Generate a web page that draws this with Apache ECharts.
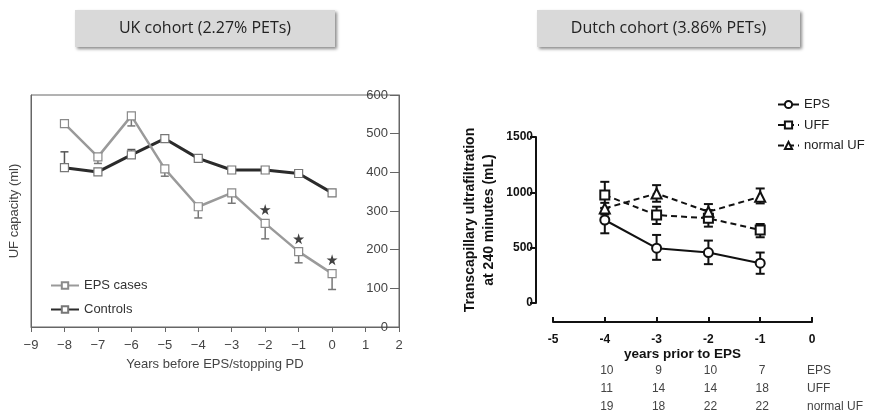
<!DOCTYPE html>
<html>
<head>
<meta charset="utf-8">
<script src="https://cdn.jsdelivr.net/npm/echarts@6/dist/echarts.min.js"></script>
<style>
  html, body { margin: 0; padding: 0; background: #fff; }
  #chart { width: 872px; height: 415px; }
</style>
</head>
<body>
<div id="chart"></div>
<script>
// UK cohort
const ukYears = [-8, -7, -6, -5, -4, -3, -2, -1, 0]
const ukEps = [526, 440, 546, 409, 311, 347, 268, 195, 138]
const ukEpsErr = [null, 423, 520, 390, 282, 320, 228, 166, 97]
const ukCtrl = [412, 401, 445, 487, 436, 406, 406, 397, 347]
const ukCtrlErr = [453, null, 459, null, null, null, null, null, null]
const ukStarYears = [-2, -1, 0]
const ukStars = [304, 228, 174]

// Dutch cohort
const nlYears = [-4, -3, -2, -1]
const nlEps = [750, 495, 456, 360]
const nlEpsLo = [630, 390, 351, 264]
const nlEpsHi = [860, 615, 564, 456]
const nlUff = [975, 795, 765, 660]
const nlUffLo = [855, 714, 690, 594]
const nlUffHi = [1095, 870, 840, 714]
const nlNorm = [855, 990, 825, 960]
const nlNormLo = [800, 915, 750, 900]
const nlNormHi = [905, 1065, 894, 1035]
const nCounts = [
  ['EPS', [10, 9, 10, 7]],
  ['UFF', [11, 14, 14, 18]],
  ['normal UF', [19, 18, 22, 22]]
]

const chart = echarts.init(document.getElementById('chart'))

function pairs(xs, ys) {
  return xs.map((x, i) => [x, ys[i]])
}

// 误差线：从均值画到端点
function oneSided(xs, ys, ends) {
  const out = []
  xs.forEach((x, i) => {
    if (ends[i] != null) out.push([x, ys[i], ends[i]])
  })
  return out
}

function errRender(color, width, cap, bothCaps) {
  return function (params, api) {
    const x = api.value(0)
    const p1 = api.coord([x, api.value(1)])
    const p2 = api.coord([x, api.value(2)])
    const style = { stroke: color, lineWidth: width }
    const kids = [
      { type: 'line', shape: { x1: p1[0], y1: p1[1], x2: p2[0], y2: p2[1] }, style },
      { type: 'line', shape: { x1: p2[0] - cap, y1: p2[1], x2: p2[0] + cap, y2: p2[1] }, style }
    ]
    if (bothCaps) {
      kids.push({ type: 'line', shape: { x1: p1[0] - cap, y1: p1[1], x2: p1[0] + cap, y2: p1[1] }, style })
    }
    return { type: 'group', children: kids }
  }
}

const nlErrData = []
nlYears.forEach((x, i) => {
  nlErrData.push([x, nlEpsLo[i], nlEpsHi[i]])
  nlErrData.push([x, nlUffLo[i], nlUffHi[i]])
  nlErrData.push([x, nlNormLo[i], nlNormHi[i]])
})

const tableData = []
nCounts.forEach((row, r) => {
  row[1].forEach((n, i) => tableData.push([nlYears[i], r, String(n), 0]))
  tableData.push([0, r, row[0], 1])
})

const minus = (v) => String(v).replace('-', '\u2212')
const plain = (v) => String(v)
const starPath = 'path://M50,0 L61,35 L98,35 L68,57 L79,91 L50,70 L21,91 L32,57 L2,35 L39,35 Z'
const ukFont = 'Liberation Sans'

const option = {
  animation: false,
  graphic: [
    {
      type: 'group', left: 75, top: 10,
      children: [
        { type: 'rect', shape: { width: 260, height: 37 },
          style: { fill: '#d9d9d9', shadowBlur: 3, shadowOffsetX: 2, shadowOffsetY: 2, shadowColor: 'rgba(0,0,0,0.45)' } },
        { type: 'text', x: 130, y: 18.5,
          style: { text: 'UK cohort (2.27% PETs)', font: '16px "Open Sans"', fill: '#222', align: 'center', verticalAlign: 'middle' } }
      ]
    },
    {
      type: 'group', left: 537, top: 10,
      children: [
        { type: 'rect', shape: { width: 263, height: 37 },
          style: { fill: '#d9d9d9', shadowBlur: 3, shadowOffsetX: 2, shadowOffsetY: 2, shadowColor: 'rgba(0,0,0,0.45)' } },
        { type: 'text', x: 131.5, y: 18.5,
          style: { text: 'Dutch cohort (3.86% PETs)', font: '16px "Open Sans"', fill: '#222', align: 'center', verticalAlign: 'middle' } }
      ]
    }
  ],
  legend: [
    {
      data: ['EPS cases', 'Controls'],
      orient: 'vertical', left: 45, top: 274,
      itemWidth: 28, itemHeight: 8, itemGap: 11,
      textStyle: { fontFamily: ukFont, fontSize: 13, color: '#333' }
    },
    {
      data: ['EPS', 'UFF', 'normal UF'],
      orient: 'vertical', left: 772, top: 93,
      itemWidth: 21, itemHeight: 9, itemGap: 7.5,
      textStyle: { fontFamily: ukFont, fontSize: 13, color: '#222' }
    }
  ],
  grid: [
    { left: 31, top: 95, width: 368, height: 232, show: true, borderColor: '#666', borderWidth: 1 },
    { left: 553, top: 137, width: 259, height: 166 }
  ],
  xAxis: [
    {
      gridIndex: 0, type: 'value', min: -9, max: 2, interval: 1,
      axisLine: { onZero: false, lineStyle: { color: '#666' } },
      axisTick: { length: 5, lineStyle: { color: '#666' } },
      splitLine: { show: false },
      axisLabel: { formatter: minus, fontFamily: ukFont, fontSize: 13, color: '#444', margin: 12 },
      name: 'Years before EPS/stopping PD', nameLocation: 'middle', nameGap: 31,
      nameTextStyle: { fontFamily: ukFont, fontSize: 13, color: '#444' }
    },
    {
      gridIndex: 1, type: 'value', position: 'bottom', min: -5, max: 0, interval: 1, offset: 19,
      axisLine: { show: true, onZero: false, lineStyle: { color: '#111', width: 2 } },
      axisTick: { show: true, inside: true, length: 5, lineStyle: { color: '#111', width: 2 } },
      splitLine: { show: false },
      axisLabel: { fontFamily: ukFont, fontSize: 12, fontWeight: 'bold', color: '#111', margin: 12 },
      name: 'years prior to EPS', nameLocation: 'middle', nameGap: 23,
      nameTextStyle: { fontFamily: ukFont, fontSize: 13.5, fontWeight: 'bold', color: '#111' }
    }
  ],
  yAxis: [
    {
      gridIndex: 0, type: 'value', position: 'right', min: 0, max: 600, interval: 100,
      axisLine: { show: true, onZero: false, lineStyle: { color: '#666' } },
      axisTick: { show: true, inside: true, length: 9, lineStyle: { color: '#666' } },
      splitLine: { show: false },
      axisLabel: { inside: true, margin: 11, fontFamily: ukFont, fontSize: 13, color: '#444' }
    },
    {
      gridIndex: 0, type: 'value', position: 'left', min: 0, max: 600,
      axisLine: { show: true, onZero: false, lineStyle: { color: '#666' } },
      axisTick: { show: false }, axisLabel: { show: false }, splitLine: { show: false },
      name: 'UF capacity (ml)', nameLocation: 'middle', nameGap: 10,
      nameTextStyle: { fontFamily: ukFont, fontSize: 13, color: '#444' }
    },
    {
      gridIndex: 1, type: 'value', min: 0, max: 1500, interval: 500, offset: 17,
      axisLine: { show: true, onZero: false, lineStyle: { color: '#111', width: 2 } },
      axisTick: { show: true, length: 6, lineStyle: { color: '#111', width: 2 } },
      splitLine: { show: false },
      axisLabel: { formatter: plain, fontFamily: ukFont, fontSize: 12, fontWeight: 'bold', color: '#111', margin: 3 },
      name: 'Transcapillary ultrafiltration\nat 240 minutes (mL)', nameLocation: 'middle', nameGap: 37,
      nameTextStyle: { fontFamily: ukFont, fontSize: 14, fontWeight: 'bold', color: '#111', lineHeight: 19 }
    }
  ],
  series: [
    {
      name: 'EPS cases', type: 'line', xAxisIndex: 0, yAxisIndex: 0, z: 3,
      data: pairs(ukYears, ukEps),
      symbol: 'rect', symbolSize: 8,
      lineStyle: { color: '#9a9a9a', width: 2.5 },
      itemStyle: { color: '#fff', borderColor: '#8a8a8a', borderWidth: 1.2 }
    },
    {
      name: 'Controls', type: 'line', xAxisIndex: 0, yAxisIndex: 0, z: 2,
      data: pairs(ukYears, ukCtrl),
      symbol: 'rect', symbolSize: 8,
      lineStyle: { color: '#2b2b2b', width: 3 },
      itemStyle: { color: '#fff', borderColor: '#777', borderWidth: 1.2 }
    },
    {
      type: 'custom', xAxisIndex: 0, yAxisIndex: 0, z: 1,
      renderItem: errRender('#777', 1.5, 4, false),
      data: oneSided(ukYears, ukEps, ukEpsErr)
    },
    {
      type: 'custom', xAxisIndex: 0, yAxisIndex: 0, z: 1,
      renderItem: errRender('#555', 1.5, 4, false),
      data: oneSided(ukYears, ukCtrl, ukCtrlErr)
    },
    {
      type: 'scatter', xAxisIndex: 0, yAxisIndex: 0,
      data: pairs(ukStarYears, ukStars),
      symbol: starPath, symbolSize: 11,
      itemStyle: { color: '#111' }
    },
    {
      name: 'EPS', type: 'line', xAxisIndex: 1, yAxisIndex: 2, z: 3,
      data: pairs(nlYears, nlEps),
      symbol: 'circle', symbolSize: 9,
      lineStyle: { color: '#111', width: 2 },
      itemStyle: { color: '#fff', borderColor: '#111', borderWidth: 2 }
    },
    {
      name: 'UFF', type: 'line', xAxisIndex: 1, yAxisIndex: 2, z: 3,
      data: pairs(nlYears, nlUff),
      symbol: 'rect', symbolSize: 9,
      lineStyle: { color: '#111', width: 2, type: [6, 4] },
      itemStyle: { color: '#fff', borderColor: '#111', borderWidth: 2 }
    },
    {
      name: 'normal UF', type: 'line', xAxisIndex: 1, yAxisIndex: 2, z: 3,
      data: pairs(nlYears, nlNorm),
      symbol: 'triangle', symbolSize: 10,
      lineStyle: { color: '#111', width: 2, type: [6, 4] },
      itemStyle: { color: '#fff', borderColor: '#111', borderWidth: 2 }
    },
    {
      type: 'custom', xAxisIndex: 1, yAxisIndex: 2, z: 1,
      renderItem: errRender('#111', 2, 4.5, true),
      data: nlErrData
    },
    {
      // 每年的病例数表格
      type: 'custom', xAxisIndex: 1, yAxisIndex: 2, clip: false, silent: true,
      renderItem: function (params, api) {
        const p = api.coord([api.value(0), 0])
        const isLabel = api.value(3) === 1
        return {
          type: 'text',
          x: isLabel ? p[0] - 5 : p[0] + 2,
          y: p[1] + 68 + api.value(1) * 18,
          style: {
            text: tableData[params.dataIndex][2],
            font: '12px "Liberation Sans"', fill: '#444',
            align: isLabel ? 'left' : 'center', verticalAlign: 'middle'
          }
        }
      },
      data: tableData
    }
  ]
}

chart.setOption(option)
window.addEventListener('resize', function () {
  chart.resize()
})
</script>
</body>
</html>
